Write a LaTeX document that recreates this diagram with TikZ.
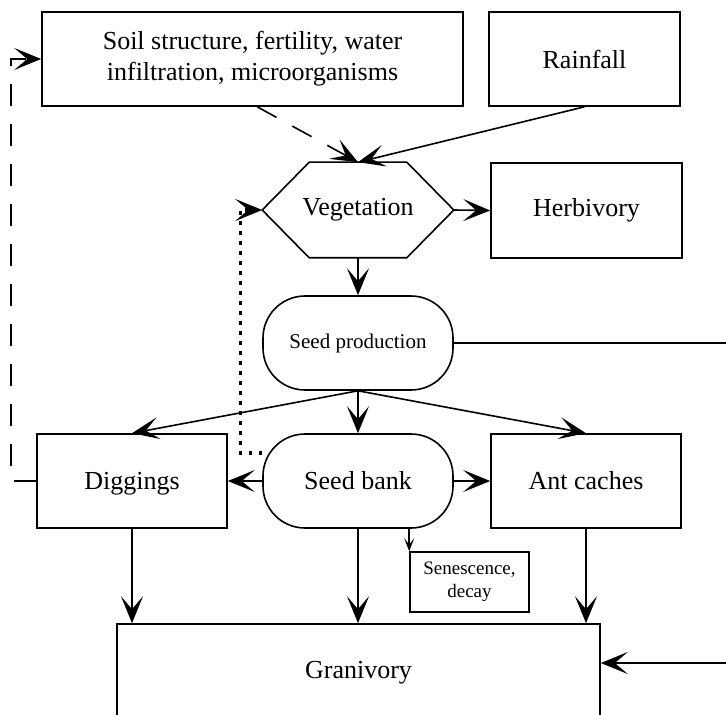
\documentclass[tikz,border=0pt]{standalone}
\usepackage{fontspec}
\setmainfont{Liberation Serif}
\usetikzlibrary{shapes,arrows.meta,positioning,calc}

\begin{document}
\begin{tikzpicture}[x=0.5pt,y=-0.5pt,line width=0.8pt,
    >={Stealth[length=13.5pt,width=11pt,inset=6.5pt]},
    small/.style={-{Stealth[length=6.5pt,width=5pt,inset=3.2pt]}},
    box/.style={draw,rectangle,align=center,inner sep=2pt,font=\fontsize{13}{15.5}\selectfont},
    roundbox/.style={draw,rectangle,rounded corners=21pt,minimum width=95pt,minimum height=47pt,align=center,font=\fontsize{13}{15.5}\selectfont},
    soillink/.style={->,dash pattern=on 11pt off 9pt},
    seedlink/.style={->,line width=1.6pt,dash pattern=on 1.8pt off 3.2pt}]

    \useasboundingbox (0,0) rectangle (726,715);
    \clip (0,0) rectangle (726,715);

    % Top row
    \node[box,minimum width=210.5pt,minimum height=47pt] (soil) at (252.5,59) {Soil structure, fertility, water\\infiltration, microorganisms};
    \node[box,minimum width=95.5pt,minimum height=47pt] (rain) at (584.5,59) {Rainfall};

    % Vegetation (hexagon drawn on the node's corners)
    \node[rectangle,inner sep=0pt,minimum width=95pt,minimum height=47pt,font=\fontsize{13}{15.5}\selectfont] (veg) at (358,210) {Vegetation};
    \draw (veg.west) -- ([xshift=23.5pt]veg.north west) -- ([xshift=-23.5pt]veg.north east)
        -- (veg.east) -- ([xshift=-23.5pt]veg.south east) -- ([xshift=23.5pt]veg.south west) -- cycle;
    \node[box,minimum width=95.5pt,minimum height=47.5pt] (herb) at (586.5,210.5) {Herbivory};

    % Seeds
    \node[roundbox,font=\fontsize{10.5}{12.5}\selectfont] (prod) at (358,343) {Seed production};
    \node[roundbox] (bank) at (358,481) {Seed bank};
    \node[box,minimum width=95pt,minimum height=47pt,text depth=0pt] (dig) at (132,481) {Diggings};
    \node[box,minimum width=95pt,minimum height=47pt] (ant) at (586,481) {Ant caches};
    \node[box,minimum width=59.5pt,minimum height=30pt,font=\fontsize{9.5}{11.5}\selectfont] (sen) at (469.5,582) {Senescence,\\decay};
    \node[box,minimum width=241.5pt,minimum height=49pt] (gran) at (358.5,673) {Granivory};

    % Outer ends (cut by the frame)
    \coordinate (prodout) at (745,343);
    \coordinate (granin) at (745,663);
    \coordinate (soilout) at ($(soil.south west)+(216,0)$);

    % Links
    \draw[soillink] (soilout) -- (veg.north);
    \draw[->] (rain.south) -- (veg.north);
    \draw[->] (veg.east) -- (herb.west);
    \draw[->] (veg.south) -- (prod.north);
    \draw (prod.east) -- (prodout);
    \foreach \n in {dig,bank,ant}
        \draw[->] (prod.south) -- (\n.north);
    \draw[->] (bank.west) -- (dig.east);
    \draw[->] (bank.east) -- (ant.west);
    \draw[small] (bank.south -| sen.north west) -- (sen.north west);
    \foreach \n in {dig,bank,ant}
        \draw[->] (\n.south) -- (\n.south |- gran.north);
    \draw[->] (granin) -- (granin -| gran.east);

    % Feedbacks
    \draw[seedlink] ([yshift=14pt]bank.west) -- ++(-22,0) |- (veg.west);
    \draw[soillink] (dig.west) -- ++(-25,0) |- (soil.west);

\end{tikzpicture}
\end{document}
